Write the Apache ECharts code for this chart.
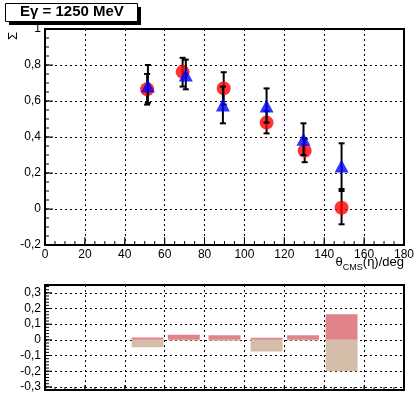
<!DOCTYPE html>
<html>
<head>
<meta charset="utf-8">
<script src="https://cdn.jsdelivr.net/npm/echarts@6/dist/echarts.min.js"></script>
<style>
html,body{margin:0;padding:0;background:#fff;}
#c{width:417px;height:398px;}
</style>
</head>
<body>
<div id="c"></div>
<script>
// ---- data ----
const titleText = 'Eγ = 1250 MeV';
const yName = 'Σ';

const thetaRed = [51.2, 69.0, 89.6, 111.1, 130.2, 148.7];
const sigmaRed = [0.665, 0.762, 0.670, 0.480, 0.324, 0.007];
const redLow  = [0.58, 0.68, 0.58, 0.42, 0.26, -0.085];
const redHigh = [0.75, 0.84, 0.76, 0.544, 0.39, 0.10];

const thetaBlue = [51.6, 70.6, 89.2, 111.1, 129.6, 148.7];
const sigmaBlue = [0.683, 0.745, 0.578, 0.572, 0.387, 0.239];
const blueLow  = [0.59, 0.665, 0.476, 0.48, 0.30, 0.111];
const blueHigh = [0.80, 0.83, 0.68, 0.67, 0.476, 0.365];

const barTheta = [51.4, 69.6, 90.0, 111.1, 129.4, 148.7];
const diffPos = [0.015, 0.032, 0.030, 0.013, 0.030, 0.163];
const diffNeg = [-0.047, -0.004, -0.005, -0.074, -0.004, -0.200];

// ---- axis tick positions ----
function range(a, b, step) { const r = []; for (let i = 0; a + i * step <= b + 1e-9; i++) r.push(Math.round((a + i * step) * 1000) / 1000); return r; }
const xMajor = range(0, 180, 20);
const xMinor = range(0, 180, 5);
const yTopMajor = range(-0.2, 1, 0.2);
const yTopMinor = range(-0.2, 1, 0.05);
const yBotMajor = range(-0.3, 0.3, 0.1);
const yBotMinor = range(-0.32, 0.34, 0.02);

// ---- chart ----
const FONT = 'Liberation Sans';
const comma = v => String(Math.round(v * 100) / 100).replace('.', ',');
function dotted() { return {show: true, lineStyle: {color: '#000', width: 1, type: [2, 3]}}; }
function axLine() { return {show: true, onZero: false, lineStyle: {color: '#000', width: 2}}; }

function errSeries(xs, lo, hi, z) {
  return {
    type: 'custom', xAxisIndex: 0, yAxisIndex: 0, z: z, silent: true,
    data: xs.map((x, i) => [x, lo[i], hi[i]]),
    renderItem: function (params, api) {
      const p1 = api.coord([api.value(0), api.value(1)]);
      const p2 = api.coord([api.value(0), api.value(2)]);
      const cw = 3;
      const st = {stroke: '#000', lineWidth: 2};
      return {type: 'group', children: [
        {type: 'line', shape: {x1: p1[0], y1: p1[1], x2: p2[0], y2: p2[1]}, style: st},
        {type: 'line', shape: {x1: p1[0] - cw, y1: p1[1], x2: p1[0] + cw, y2: p1[1]}, style: st},
        {type: 'line', shape: {x1: p2[0] - cw, y1: p2[1], x2: p2[0] + cw, y2: p2[1]}, style: st}
      ]};
    }
  };
}

function barSeries(vals, color, z) {
  return {
    type: 'custom', xAxisIndex: 1, yAxisIndex: 1, z: z, silent: true,
    data: barTheta.map((x, i) => [x, vals[i]]),
    renderItem: function (params, api) {
      const hw = 8;
      const a = api.coord([api.value(0) - hw, api.value(1)]);
      const b = api.coord([api.value(0) + hw, 0]);
      return {type: 'rect',
        shape: {x: Math.min(a[0], b[0]), y: Math.min(a[1], b[1]),
                width: Math.abs(b[0] - a[0]), height: Math.abs(b[1] - a[1])},
        style: {fill: color}};
    }
  };
}

// tick marks drawn through the axes' own scales
function xTickSeries(idx, yBase, vals, len) {
  return {
    type: 'custom', xAxisIndex: idx, yAxisIndex: idx, z: 8, silent: true, clip: false,
    data: vals.map(v => [v, yBase]),
    renderItem: function (params, api) {
      const p = api.coord([api.value(0), api.value(1)]);
      return {type: 'line', shape: {x1: p[0], y1: p[1], x2: p[0], y2: p[1] - len},
              style: {stroke: '#000', lineWidth: 1}};
    }
  };
}
function yTickSeries(idx, xBase, vals, len) {
  return {
    type: 'custom', xAxisIndex: idx, yAxisIndex: idx, z: 8, silent: true, clip: false,
    data: vals.map(v => [xBase, v]),
    renderItem: function (params, api) {
      const p = api.coord([api.value(0), api.value(1)]);
      return {type: 'line', shape: {x1: p[0], y1: p[1], x2: p[0] + len, y2: p[1]},
              style: {stroke: '#000', lineWidth: 1}};
    }
  };
}

const chart = echarts.init(document.getElementById('c'), null, {renderer: 'canvas'});
chart.setOption({
  animation: false,
  backgroundColor: '#fff',
  grid: [
    {left: 45, right: 13, top: 29, height: 216, show: true, borderColor: '#000', borderWidth: 2, backgroundColor: 'transparent'},
    {left: 45, right: 13, top: 285, height: 105, show: true, borderColor: '#000', borderWidth: 2, backgroundColor: 'transparent'}
  ],
  xAxis: [
    {type: 'value', gridIndex: 0, min: 0, max: 180, interval: 20,
     axisLine: axLine(), axisTick: {show: false},
     axisLabel: {color: '#000', fontFamily: FONT, fontSize: 12, margin: 4},
     splitLine: dotted()},
    {type: 'value', gridIndex: 1, min: 0, max: 180, interval: 20,
     axisLine: axLine(), axisTick: {show: false},
     axisLabel: {show: false},
     splitLine: dotted()}
  ],
  yAxis: [
    {type: 'value', gridIndex: 0, min: -0.2, max: 1, interval: 0.2,
     axisLine: axLine(), axisTick: {show: false},
     axisLabel: {color: '#000', fontFamily: FONT, fontSize: 12, margin: 4, formatter: comma},
     splitLine: dotted()},
    {type: 'value', gridIndex: 1, min: -0.32, max: 0.35,
     axisLine: axLine(), axisTick: {show: false},
     axisLabel: {color: '#000', fontFamily: FONT, fontSize: 12, margin: 4,
       formatter: v => Math.abs(v * 10 - Math.round(v * 10)) < 1e-6 ? comma(v) : ''},
     splitLine: dotted()}
  ],
  series: [
    errSeries(thetaRed, redLow, redHigh, 2),
    {type: 'scatter', xAxisIndex: 0, yAxisIndex: 0, z: 3, symbol: 'circle', symbolSize: 14,
     itemStyle: {color: '#ff0000'}, data: thetaRed.map((x, i) => [x, sigmaRed[i]])},
    errSeries(thetaBlue, blueLow, blueHigh, 4),
    {type: 'scatter', xAxisIndex: 0, yAxisIndex: 0, z: 5, symbol: 'triangle', symbolSize: [14, 13],
     itemStyle: {color: '#0000ff'}, data: thetaBlue.map((x, i) => [x, sigmaBlue[i]])},
    barSeries(diffNeg, '#d4bda9', 2),
    barSeries(diffPos, '#e0838a', 3),
    xTickSeries(0, -0.2, xMajor, 8),
    xTickSeries(0, -0.2, xMinor, 4),
    yTickSeries(0, 0, yTopMajor, 8),
    yTickSeries(0, 0, yTopMinor, 4),
    xTickSeries(1, -0.32, xMajor, 5),
    xTickSeries(1, -0.32, xMinor, 3),
    yTickSeries(1, 0, yBotMajor, 7),
    yTickSeries(1, 0, yBotMinor, 4)
  ],
  graphic: [
    {type: 'rect', left: 9, top: 7, shape: {width: 132, height: 18}, style: {fill: '#000'}, z: 20},
    {type: 'rect', left: 5, top: 3, shape: {width: 132, height: 18}, style: {fill: '#fff', stroke: '#000', lineWidth: 1}, z: 21},
    {type: 'text', left: 20, top: 4, z: 22,
     style: {text: titleText, font: 'bold 15px "Liberation Sans"', fill: '#000'}},
    {type: 'text', x: 7, y: 40, rotation: Math.PI / 2, z: 22,
     style: {text: yName, font: '13px "Liberation Sans"', fill: '#000', align: 'left', verticalAlign: 'top'}},
    {type: 'text', right: 13, top: 256, z: 22,
     style: {text: 'θ{s|CMS}(η)/deg', fill: '#000', font: '13px "Liberation Sans"',
       rich: {s: {fontSize: 9, fontFamily: FONT, fill: '#000', padding: [10, 0, 0, 0]}}}}
  ]
});
</script>
</body>
</html>
